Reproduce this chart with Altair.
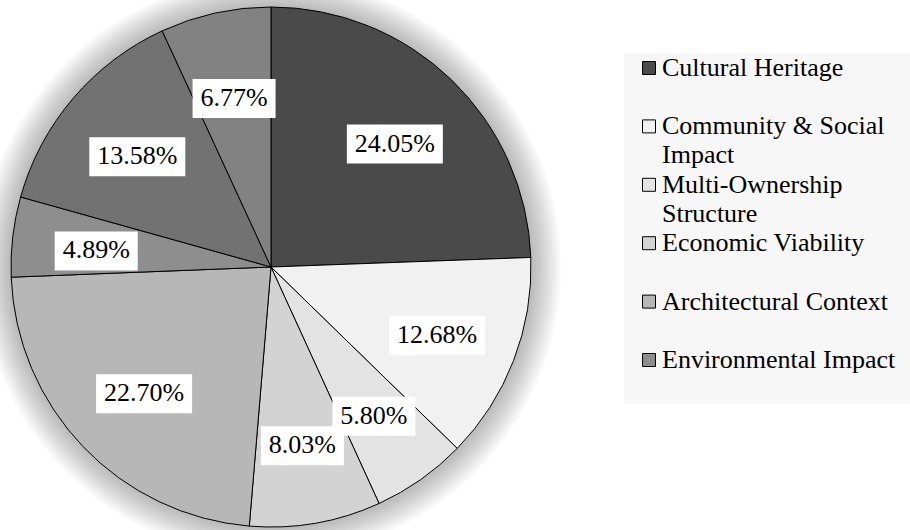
import math
import altair as alt
import pandas as pd

# ---- data ----
slice_names = [
    "Cultural Heritage",
    "Community & Social Impact",
    "Multi-Ownership Structure",
    "Economic Viability",
    "Architectural Context",
    "Environmental Impact",
    "Unlisted Factor A",
    "Unlisted Factor B",
]
slice_values = [24.05, 12.68, 5.80, 8.03, 22.70, 4.89, 13.58, 6.77]
slice_labels = ["24.05%", "12.68%", "5.80%", "8.03%", "22.70%", "4.89%", "13.58%", "6.77%"]

legend_names = slice_names[:6]
legend_text = [
    "Cultural Heritage",
    "Community & Social\nImpact",
    "Multi-Ownership\nStructure",
    "Economic Viability",
    "Architectural Context",
    "Environmental Impact",
]

# ---- style ----
slice_fills = ["#4a4a4a", "#f1f1f1", "#e3e3e3", "#d3d3d3", "#b7b7b7", "#8e8e8e", "#727272", "#828282"]
FONT = "Liberation Serif"
CX, CY, R = 271, 267, 260
LCX, LCY, LR = 272, 271, 177

df = pd.DataFrame({"idx": list(range(8)), "name": slice_names,
                   "value": slice_values, "label": slice_labels})
leg_df = pd.DataFrame({"idx": list(range(6)), "name": legend_names, "text": legend_text})
one = pd.DataFrame({"k": [0]})

color = alt.Color("name:N", scale=alt.Scale(domain=slice_names, range=slice_fills), legend=None)

layers = []

# soft glow around the pie
for k in range(1, 13):
    layers.append(
        alt.Chart(one).mark_arc(theta=0, theta2=2 * math.pi, innerRadius=R - 2,
                                outerRadius=R + 2.5 * k, fill="black", opacity=0.025,
                                strokeWidth=0)
        .encode(x=alt.value(CX), y=alt.value(CY))
    )

pie = alt.Chart(df).mark_arc(outerRadius=R, stroke="black", strokeWidth=1).encode(
    theta=alt.Theta("value:Q", stack=True),
    color=color,
    order=alt.Order("idx:Q"),
    x=alt.value(CX),
    y=alt.value(CY),
)
layers.append(pie)

lab = alt.Chart(df).transform_window(
    cum="sum(value)", sort=[alt.SortField("idx")], frame=[None, 0]
).transform_joinaggregate(total="sum(value)").transform_calculate(
    mid="(datum.cum - datum.value / 2) / datum.total * 2 * PI",
    lx=f"{LCX} + {LR} * sin(datum.mid)",
    ly=f"{LCY} - {LR} * cos(datum.mid)",
    hw="(13 * length(datum.label) + 18) / 2",
).transform_calculate(
    bx1="datum.lx - datum.hw", bx2="datum.lx + datum.hw",
    by1="datum.ly - 19", by2="datum.ly + 20",
)

for i in range(8):
    sub = lab.transform_filter(f"datum.idx == {i}")
    layers.append(sub.mark_rect(fill="white").encode(
        x=alt.X("bx1:Q", scale=None), x2="bx2:Q",
        y=alt.Y("by1:Q", scale=None), y2="by2:Q"))
    layers.append(sub.mark_text(font=FONT, fontSize=26, color="black",
                                align="center", baseline="middle").encode(
        x=alt.X("lx:Q", scale=None), y=alt.Y("ly:Q", scale=None), text="label:N"))

# legend panel
layers.append(alt.Chart(one).mark_rect(fill="#f7f7f7").encode(
    x=alt.value(624), x2=alt.value(910), y=alt.value(53), y2=alt.value(404)))

leg = alt.Chart(leg_df).transform_calculate(
    sy="68 + datum.idx * 58.4", ty="76 + datum.idx * 58.4")
layers.append(leg.mark_square(size=169, opacity=1, stroke="black", strokeWidth=1).encode(
    x=alt.value(649), y=alt.Y("sy:Q", scale=None), color=color))
layers.append(leg.mark_text(font=FONT, fontSize=26, color="black", align="left",
                            baseline="alphabetic", lineBreak="\n", lineHeight=29).encode(
    x=alt.value(662), y=alt.Y("ty:Q", scale=None), text="text:N"))

chart = alt.layer(*layers).properties(
    width=910, height=530, autosize=alt.AutoSizeParams(type="none"), padding=0,
    background="white",
).configure_view(stroke=None)

chart.save("out.html", embed_options={"renderer": "svg", "actions": False})
